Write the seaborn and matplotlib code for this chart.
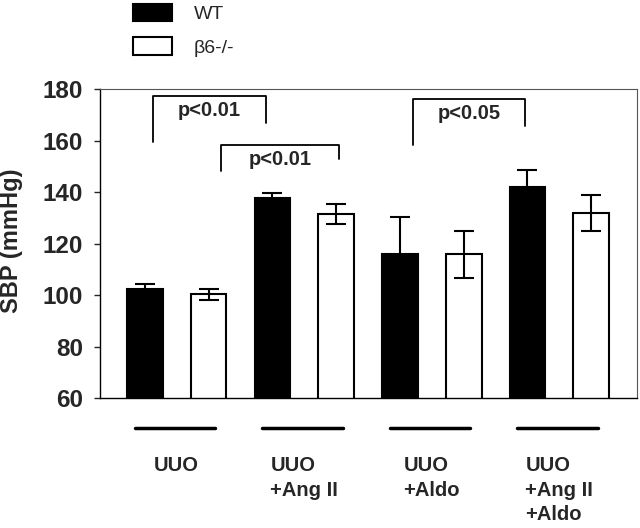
import pandas as pd
import numpy as np
import matplotlib
matplotlib.use("Agg")
import matplotlib.pyplot as plt
import seaborn as sns

groups = ['UUO', 'UUO\n+Ang II', 'UUO\n+Aldo', 'UUO\n+Ang II\n+Aldo']
genotypes = ['WT', 'β6-/-']
wt_mean = [102.5, 137.8, 115.8, 142.0]
wt_sem = [1.9, 1.8, 14.6, 6.8]
ko_mean = [100.3, 131.6, 115.8, 131.8]
ko_sem = [2.0, 4.0, 9.0, 7.0]

# significance brackets: (left x, right x, top, left leg end, right leg end, label)
brackets = [
    (-0.19, 0.70, 177.3, 159.5, 166.7, 'p<0.01'),
    (0.35, 1.27, 158.3, 148.3, 152.8, 'p<0.01'),
    (1.85, 2.73, 176.1, 158.3, 165.6, 'p<0.05'),
]

df = pd.DataFrame({
    'group': groups * 2,
    'genotype': [genotypes[0]] * 4 + [genotypes[1]] * 4,
    'SBP': wt_mean + ko_mean,
    'sem': wt_sem + ko_sem,
})

sns.set_style("ticks")
plt.rcParams['font.family'] = ['Liberation Sans', 'DejaVu Sans']

fig = plt.figure(figsize=(6.4, 5.28), dpi=100)
ax = fig.add_axes([0.156, 0.246, 0.839, 0.585])

sns.barplot(data=df, x='group', y='SBP', hue='genotype', order=groups,
            hue_order=genotypes, palette={'WT': 'black', 'β6-/-': 'white'},
            edgecolor='black', linewidth=1.5, width=1.0, gap=0.44,
            errorbar=None, ax=ax)

offsets = {'WT': -0.25, 'β6-/-': 0.25}
for _, row in df.iterrows():
    x = groups.index(row['group']) + offsets[row['genotype']]
    ax.errorbar(x, row['SBP'], yerr=row['sem'], color='black', lw=1.5,
                capsize=7, capthick=1.5, zorder=1.5)

for x0, x1, top, l0, l1, lab in brackets:
    ax.plot([x0, x0, x1, x1], [l0, top, top, l1], color='black', lw=1.3)
    ax.text((x0 + x1) / 2, top - 1.8, lab, ha='center', va='top',
            fontsize=14.5, fontweight='bold')

ax.set_ylim(60, 180)
ax.set_xlim(-0.603, 3.607)
ax.set_yticks(np.arange(60, 181, 20))
ax.tick_params(axis='y', labelsize=17.5, length=4, width=1, pad=8)
for t in ax.get_yticklabels():
    t.set_fontweight('bold')
ax.tick_params(axis='x', length=0, pad=42, labelsize=14.5)
for t in ax.get_xticklabels():
    t.set_fontweight('bold')
    t.set_multialignment('left')
    t.set_va('top')
    t.set_linespacing(1.35)
ax.set_xlabel('')
ax.set_ylabel('SBP (mmHg)', fontsize=17, fontweight='bold')
ax.yaxis.set_label_coords(-0.143, 0.508)

# group underlines
trans = ax.get_xaxis_transform()
for i in range(len(groups)):
    ax.plot([i - 0.33, i + 0.30], [-0.097, -0.097], color='black', lw=2.5,
            transform=trans, clip_on=False)

for side in ['left', 'bottom']:
    ax.spines[side].set_color('black')
    ax.spines[side].set_linewidth(1.0)
for side in ['top', 'right']:
    ax.spines[side].set_visible(True)
    ax.spines[side].set_color('#555555')
    ax.spines[side].set_linewidth(0.8)

sns.move_legend(ax, 'upper left', bbox_to_anchor=(0.205, 0.997),
                bbox_transform=fig.transFigure, frameon=False, title=None,
                fontsize=14, handlelength=2.0, handleheight=1.0,
                labelspacing=0.75, handletextpad=1.1, borderpad=0.1,
                borderaxespad=0.0)

fig.savefig('out.png', dpi=100)
